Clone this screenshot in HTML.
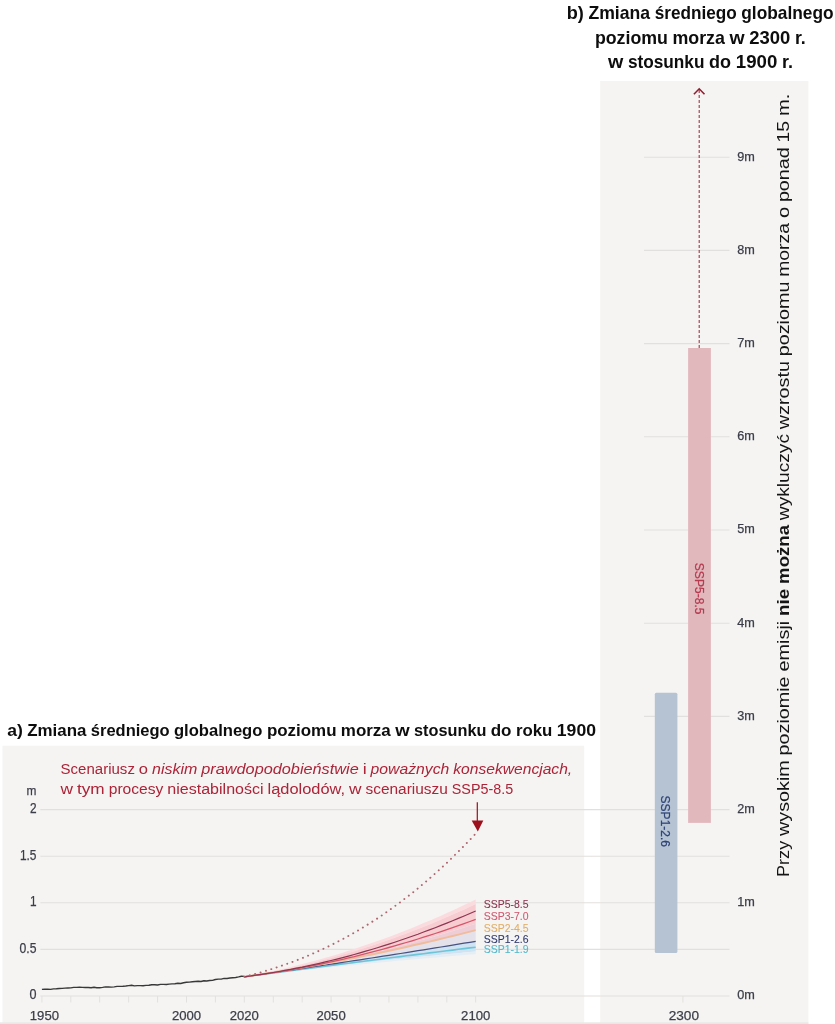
<!DOCTYPE html>
<html lang="pl"><head><meta charset="utf-8"><title>Zmiana średniego globalnego poziomu morza</title>
<style>html,body{margin:0;padding:0;background:#fff}body{width:835px;height:1024px;overflow:hidden}svg{display:block}text{font-family:"Liberation Sans",sans-serif}</style></head><body>
<svg width="835" height="1024" viewBox="0 0 835 1024">
<rect width="835" height="1024" fill="#fff"/>
<rect x="2.5" y="745.7" width="581.7" height="278.3" fill="#f5f4f3"/>
<rect x="600.2" y="81" width="208.2" height="943" fill="#f5f4f3"/>
<rect x="0" y="1022.3" width="808.4" height="1.7" fill="#e9e8e7"/>
<line x1="40.3" x2="729.5" y1="996.0" y2="996.0" stroke="#e2e0de" stroke-width="1.1"/>
<line x1="40.3" x2="729.5" y1="949.4" y2="949.4" stroke="#e2e0de" stroke-width="1.1"/>
<line x1="40.3" x2="729.5" y1="902.8" y2="902.8" stroke="#e2e0de" stroke-width="1.1"/>
<line x1="40.3" x2="729.5" y1="856.2" y2="856.2" stroke="#e2e0de" stroke-width="1.1"/>
<line x1="40.3" x2="729.5" y1="809.6" y2="809.6" stroke="#e2e0de" stroke-width="1.1"/>
<line x1="644" x2="729.5" y1="716.4" y2="716.4" stroke="#e2e0de" stroke-width="1.1"/>
<line x1="644" x2="729.5" y1="623.2" y2="623.2" stroke="#e2e0de" stroke-width="1.1"/>
<line x1="644" x2="729.5" y1="530.0" y2="530.0" stroke="#e2e0de" stroke-width="1.1"/>
<line x1="644" x2="729.5" y1="436.8" y2="436.8" stroke="#e2e0de" stroke-width="1.1"/>
<line x1="644" x2="729.5" y1="343.6" y2="343.6" stroke="#e2e0de" stroke-width="1.1"/>
<line x1="644" x2="729.5" y1="250.4" y2="250.4" stroke="#e2e0de" stroke-width="1.1"/>
<line x1="644" x2="729.5" y1="157.2" y2="157.2" stroke="#e2e0de" stroke-width="1.1"/>
<line x1="41.9" x2="41.9" y1="996.0" y2="1002.5" stroke="#e3e1df" stroke-width="1"/>
<line x1="70.8" x2="70.8" y1="996.0" y2="1002.5" stroke="#e3e1df" stroke-width="1"/>
<line x1="99.7" x2="99.7" y1="996.0" y2="1002.5" stroke="#e3e1df" stroke-width="1"/>
<line x1="128.7" x2="128.7" y1="996.0" y2="1002.5" stroke="#e3e1df" stroke-width="1"/>
<line x1="157.6" x2="157.6" y1="996.0" y2="1002.5" stroke="#e3e1df" stroke-width="1"/>
<line x1="186.5" x2="186.5" y1="996.0" y2="1002.5" stroke="#e3e1df" stroke-width="1"/>
<line x1="215.4" x2="215.4" y1="996.0" y2="1002.5" stroke="#e3e1df" stroke-width="1"/>
<line x1="244.3" x2="244.3" y1="996.0" y2="1002.5" stroke="#e3e1df" stroke-width="1"/>
<line x1="273.3" x2="273.3" y1="996.0" y2="1002.5" stroke="#e3e1df" stroke-width="1"/>
<line x1="302.2" x2="302.2" y1="996.0" y2="1002.5" stroke="#e3e1df" stroke-width="1"/>
<line x1="331.1" x2="331.1" y1="996.0" y2="1002.5" stroke="#e3e1df" stroke-width="1"/>
<line x1="360.0" x2="360.0" y1="996.0" y2="1002.5" stroke="#e3e1df" stroke-width="1"/>
<line x1="388.9" x2="388.9" y1="996.0" y2="1002.5" stroke="#e3e1df" stroke-width="1"/>
<line x1="417.9" x2="417.9" y1="996.0" y2="1002.5" stroke="#e3e1df" stroke-width="1"/>
<line x1="446.8" x2="446.8" y1="996.0" y2="1002.5" stroke="#e3e1df" stroke-width="1"/>
<line x1="475.7" x2="475.7" y1="996.0" y2="1002.5" stroke="#e3e1df" stroke-width="1"/>
<line x1="682.9" x2="682.9" y1="996.0" y2="1002.5" stroke="#e3e1df" stroke-width="1"/>
<path d="M244.3,976.8 L250.1,975.7 L255.9,974.6 L261.7,973.4 L267.5,972.2 L273.3,971.0 L279.0,969.7 L284.8,968.4 L290.6,967.0 L296.4,965.6 L302.2,964.1 L308.0,962.6 L313.7,961.1 L319.5,959.5 L325.3,957.8 L331.1,956.2 L336.9,954.4 L342.7,952.7 L348.5,950.8 L354.2,949.0 L360.0,947.1 L365.8,945.1 L371.6,943.1 L377.4,941.1 L383.2,939.0 L388.9,936.9 L394.7,934.7 L400.5,932.5 L406.3,930.2 L412.1,927.9 L417.9,925.5 L423.6,923.1 L429.4,920.7 L435.2,918.2 L441.0,915.7 L446.8,913.1 L452.6,910.5 L458.3,907.8 L464.1,905.1 L469.9,902.3 L475.7,899.5 L475.7,904.1 L469.9,906.8 L464.1,909.4 L458.3,912.0 L452.6,914.6 L446.8,917.1 L441.0,919.6 L435.2,922.0 L429.4,924.4 L423.6,926.7 L417.9,929.0 L412.1,931.2 L406.3,933.4 L400.5,935.6 L394.7,937.7 L388.9,939.7 L383.2,941.8 L377.4,943.7 L371.6,945.7 L365.8,947.5 L360.0,949.4 L354.2,951.2 L348.5,952.9 L342.7,954.6 L336.9,956.3 L331.1,957.9 L325.3,959.5 L319.5,961.0 L313.7,962.5 L308.0,963.9 L302.2,965.3 L296.4,966.7 L290.6,968.0 L284.8,969.2 L279.0,970.4 L273.3,971.6 L267.5,972.7 L261.7,973.8 L255.9,974.8 L250.1,975.8 L244.3,976.8Z" fill="#fadcdf"/>
<path d="M244.3,976.8 L250.1,975.8 L255.9,974.8 L261.7,973.8 L267.5,972.7 L273.3,971.6 L279.0,970.4 L284.8,969.2 L290.6,968.0 L296.4,966.7 L302.2,965.3 L308.0,963.9 L313.7,962.5 L319.5,961.0 L325.3,959.5 L331.1,957.9 L336.9,956.3 L342.7,954.6 L348.5,952.9 L354.2,951.2 L360.0,949.4 L365.8,947.5 L371.6,945.7 L377.4,943.7 L383.2,941.8 L388.9,939.7 L394.7,937.7 L400.5,935.6 L406.3,933.4 L412.1,931.2 L417.9,929.0 L423.6,926.7 L429.4,924.4 L435.2,922.0 L441.0,919.6 L446.8,917.1 L452.6,914.6 L458.3,912.0 L464.1,909.4 L469.9,906.8 L475.7,904.1 L475.7,923.7 L469.9,925.6 L464.1,927.4 L458.3,929.2 L452.6,931.0 L446.8,932.8 L441.0,934.5 L435.2,936.2 L429.4,937.9 L423.6,939.5 L417.9,941.1 L412.1,942.7 L406.3,944.3 L400.5,945.8 L394.7,947.3 L388.9,948.8 L383.2,950.3 L377.4,951.7 L371.6,953.1 L365.8,954.5 L360.0,955.8 L354.2,957.1 L348.5,958.4 L342.7,959.7 L336.9,960.9 L331.1,962.1 L325.3,963.3 L319.5,964.4 L313.7,965.5 L308.0,966.6 L302.2,967.7 L296.4,968.7 L290.6,969.7 L284.8,970.7 L279.0,971.6 L273.3,972.6 L267.5,973.5 L261.7,974.3 L255.9,975.2 L250.1,976.0 L244.3,976.8Z" fill="#f8cdd2"/>
<path d="M244.3,976.8 L250.1,976.0 L255.9,975.2 L261.7,974.3 L267.5,973.5 L273.3,972.6 L279.0,971.6 L284.8,970.7 L290.6,969.7 L296.4,968.7 L302.2,967.7 L308.0,966.6 L313.7,965.5 L319.5,964.4 L325.3,963.3 L331.1,962.1 L336.9,960.9 L342.7,959.7 L348.5,958.4 L354.2,957.1 L360.0,955.8 L365.8,954.5 L371.6,953.1 L377.4,951.7 L383.2,950.3 L388.9,948.8 L394.7,947.3 L400.5,945.8 L406.3,944.3 L412.1,942.7 L417.9,941.1 L423.6,939.5 L429.4,937.9 L435.2,936.2 L441.0,934.5 L446.8,932.8 L452.6,931.0 L458.3,929.2 L464.1,927.4 L469.9,925.6 L475.7,923.7 L475.7,930.1 L469.9,931.6 L464.1,933.1 L458.3,934.6 L452.6,936.0 L446.8,937.4 L441.0,938.8 L435.2,940.2 L429.4,941.6 L423.6,943.0 L417.9,944.3 L412.1,945.6 L406.3,946.9 L400.5,948.2 L394.7,949.5 L388.9,950.8 L383.2,952.0 L377.4,953.2 L371.6,954.4 L365.8,955.6 L360.0,956.8 L354.2,958.0 L348.5,959.1 L342.7,960.2 L336.9,961.3 L331.1,962.4 L325.3,963.5 L319.5,964.6 L313.7,965.6 L308.0,966.6 L302.2,967.6 L296.4,968.6 L290.6,969.6 L284.8,970.5 L279.0,971.5 L273.3,972.4 L267.5,973.3 L261.7,974.2 L255.9,975.1 L250.1,975.9 L244.3,976.8Z" fill="#efcdd7"/>
<path d="M244.3,976.8 L250.1,975.9 L255.9,975.1 L261.7,974.2 L267.5,973.3 L273.3,972.4 L279.0,971.5 L284.8,970.5 L290.6,969.6 L296.4,968.6 L302.2,967.6 L308.0,966.6 L313.7,965.6 L319.5,964.6 L325.3,963.5 L331.1,962.4 L336.9,961.3 L342.7,960.2 L348.5,959.1 L354.2,958.0 L360.0,956.8 L365.8,955.6 L371.6,954.4 L377.4,953.2 L383.2,952.0 L388.9,950.8 L394.7,949.5 L400.5,948.2 L406.3,946.9 L412.1,945.6 L417.9,944.3 L423.6,943.0 L429.4,941.6 L435.2,940.2 L441.0,938.8 L446.8,937.4 L452.6,936.0 L458.3,934.6 L464.1,933.1 L469.9,931.6 L475.7,930.1 L475.7,941.3 L469.9,942.3 L464.1,943.2 L458.3,944.2 L452.6,945.1 L446.8,946.1 L441.0,947.0 L435.2,947.9 L429.4,948.9 L423.6,949.8 L417.9,950.7 L412.1,951.6 L406.3,952.6 L400.5,953.5 L394.7,954.4 L388.9,955.3 L383.2,956.2 L377.4,957.1 L371.6,958.0 L365.8,958.9 L360.0,959.8 L354.2,960.6 L348.5,961.5 L342.7,962.4 L336.9,963.3 L331.1,964.1 L325.3,965.0 L319.5,965.9 L313.7,966.7 L308.0,967.6 L302.2,968.4 L296.4,969.3 L290.6,970.1 L284.8,971.0 L279.0,971.8 L273.3,972.6 L267.5,973.5 L261.7,974.3 L255.9,975.1 L250.1,975.9 L244.3,976.8Z" fill="#e4e1eb"/>
<path d="M244.3,976.8 L250.1,975.9 L255.9,975.1 L261.7,974.3 L267.5,973.5 L273.3,972.6 L279.0,971.8 L284.8,971.0 L290.6,970.1 L296.4,969.3 L302.2,968.4 L308.0,967.6 L313.7,966.7 L319.5,965.9 L325.3,965.0 L331.1,964.1 L336.9,963.3 L342.7,962.4 L348.5,961.5 L354.2,960.6 L360.0,959.8 L365.8,958.9 L371.6,958.0 L377.4,957.1 L383.2,956.2 L388.9,955.3 L394.7,954.4 L400.5,953.5 L406.3,952.6 L412.1,951.6 L417.9,950.7 L423.6,949.8 L429.4,948.9 L435.2,947.9 L441.0,947.0 L446.8,946.1 L452.6,945.1 L458.3,944.2 L464.1,943.2 L469.9,942.3 L475.7,941.3 L475.7,951.5 L469.9,952.1 L464.1,952.6 L458.3,953.2 L452.6,953.7 L446.8,954.3 L441.0,954.8 L435.2,955.4 L429.4,955.9 L423.6,956.5 L417.9,957.1 L412.1,957.7 L406.3,958.3 L400.5,958.8 L394.7,959.4 L388.9,960.0 L383.2,960.6 L377.4,961.3 L371.6,961.9 L365.8,962.5 L360.0,963.1 L354.2,963.8 L348.5,964.4 L342.7,965.0 L336.9,965.7 L331.1,966.3 L325.3,967.0 L319.5,967.7 L313.7,968.3 L308.0,969.0 L302.2,969.7 L296.4,970.4 L290.6,971.1 L284.8,971.8 L279.0,972.5 L273.3,973.2 L267.5,973.9 L261.7,974.6 L255.9,975.3 L250.1,976.0 L244.3,976.8Z" fill="#d0e3f3"/>
<path d="M244.3,976.8 L250.1,976.0 L255.9,975.3 L261.7,974.6 L267.5,973.9 L273.3,973.2 L279.0,972.5 L284.8,971.8 L290.6,971.1 L296.4,970.4 L302.2,969.7 L308.0,969.0 L313.7,968.3 L319.5,967.7 L325.3,967.0 L331.1,966.3 L336.9,965.7 L342.7,965.0 L348.5,964.4 L354.2,963.8 L360.0,963.1 L365.8,962.5 L371.6,961.9 L377.4,961.3 L383.2,960.6 L388.9,960.0 L394.7,959.4 L400.5,958.8 L406.3,958.3 L412.1,957.7 L417.9,957.1 L423.6,956.5 L429.4,955.9 L435.2,955.4 L441.0,954.8 L446.8,954.3 L452.6,953.7 L458.3,953.2 L464.1,952.6 L469.9,952.1 L475.7,951.5 L475.7,954.2 L469.9,954.6 L464.1,955.1 L458.3,955.6 L452.6,956.0 L446.8,956.5 L441.0,957.0 L435.2,957.5 L429.4,958.0 L423.6,958.5 L417.9,959.0 L412.1,959.6 L406.3,960.1 L400.5,960.6 L394.7,961.1 L388.9,961.7 L383.2,962.2 L377.4,962.8 L371.6,963.3 L365.8,963.9 L360.0,964.4 L354.2,965.0 L348.5,965.6 L342.7,966.2 L336.9,966.7 L331.1,967.3 L325.3,967.9 L319.5,968.5 L313.7,969.1 L308.0,969.7 L302.2,970.3 L296.4,971.0 L290.6,971.6 L284.8,972.2 L279.0,972.8 L273.3,973.5 L267.5,974.1 L261.7,974.8 L255.9,975.4 L250.1,976.1 L244.3,976.8Z" fill="#e4eef5"/>
<path d="M244.3,976.8 L250.1,976.0 L255.9,975.2 L261.7,974.5 L267.5,973.7 L273.3,973.0 L279.0,972.2 L284.8,971.4 L290.6,970.7 L296.4,969.9 L302.2,969.2 L308.0,968.4 L313.7,967.7 L319.5,966.9 L325.3,966.2 L331.1,965.4 L336.9,964.7 L342.7,963.9 L348.5,963.2 L354.2,962.5 L360.0,961.7 L365.8,961.0 L371.6,960.2 L377.4,959.5 L383.2,958.8 L388.9,958.0 L394.7,957.3 L400.5,956.6 L406.3,955.8 L412.1,955.1 L417.9,954.4 L423.6,953.7 L429.4,952.9 L435.2,952.2 L441.0,951.5 L446.8,950.8 L452.6,950.1 L458.3,949.3 L464.1,948.6 L469.9,947.9 L475.7,947.2" fill="none" stroke="#6cc6d8" stroke-width="1.6"/>
<path d="M244.3,976.8 L250.1,975.9 L255.9,975.1 L261.7,974.3 L267.5,973.5 L273.3,972.6 L279.0,971.8 L284.8,971.0 L290.6,970.1 L296.4,969.3 L302.2,968.4 L308.0,967.6 L313.7,966.7 L319.5,965.9 L325.3,965.0 L331.1,964.1 L336.9,963.3 L342.7,962.4 L348.5,961.5 L354.2,960.6 L360.0,959.8 L365.8,958.9 L371.6,958.0 L377.4,957.1 L383.2,956.2 L388.9,955.3 L394.7,954.4 L400.5,953.5 L406.3,952.6 L412.1,951.6 L417.9,950.7 L423.6,949.8 L429.4,948.9 L435.2,947.9 L441.0,947.0 L446.8,946.1 L452.6,945.1 L458.3,944.2 L464.1,943.2 L469.9,942.3 L475.7,941.3" fill="none" stroke="#46527f" stroke-width="1.2"/>
<path d="M244.3,976.8 L250.1,975.9 L255.9,975.1 L261.7,974.2 L267.5,973.3 L273.3,972.4 L279.0,971.5 L284.8,970.5 L290.6,969.6 L296.4,968.6 L302.2,967.6 L308.0,966.6 L313.7,965.6 L319.5,964.6 L325.3,963.5 L331.1,962.4 L336.9,961.3 L342.7,960.2 L348.5,959.1 L354.2,958.0 L360.0,956.8 L365.8,955.6 L371.6,954.4 L377.4,953.2 L383.2,952.0 L388.9,950.8 L394.7,949.5 L400.5,948.2 L406.3,946.9 L412.1,945.6 L417.9,944.3 L423.6,943.0 L429.4,941.6 L435.2,940.2 L441.0,938.8 L446.8,937.4 L452.6,936.0 L458.3,934.6 L464.1,933.1 L469.9,931.6 L475.7,930.1" fill="none" stroke="#f0bc9c" stroke-width="2.0"/>
<path d="M244.3,976.8 L250.1,976.0 L255.9,975.2 L261.7,974.4 L267.5,973.6 L273.3,972.7 L279.0,971.8 L284.8,970.8 L290.6,969.8 L296.4,968.8 L302.2,967.7 L308.0,966.6 L313.7,965.5 L319.5,964.3 L325.3,963.1 L331.1,961.9 L336.9,960.6 L342.7,959.3 L348.5,957.9 L354.2,956.6 L360.0,955.1 L365.8,953.7 L371.6,952.2 L377.4,950.7 L383.2,949.1 L388.9,947.5 L394.7,945.9 L400.5,944.2 L406.3,942.5 L412.1,940.8 L417.9,939.0 L423.6,937.2 L429.4,935.4 L435.2,933.5 L441.0,931.6 L446.8,929.7 L452.6,927.7 L458.3,925.7 L464.1,923.6 L469.9,921.5 L475.7,919.4" fill="none" stroke="#d5566a" stroke-width="1.3"/>
<path d="M244.3,976.8 L250.1,976.0 L255.9,975.2 L261.7,974.3 L267.5,973.4 L273.3,972.5 L279.0,971.5 L284.8,970.4 L290.6,969.4 L296.4,968.2 L302.2,967.1 L308.0,965.8 L313.7,964.6 L319.5,963.3 L325.3,961.9 L331.1,960.5 L336.9,959.1 L342.7,957.6 L348.5,956.1 L354.2,954.5 L360.0,952.9 L365.8,951.2 L371.6,949.5 L377.4,947.7 L383.2,945.9 L388.9,944.1 L394.7,942.2 L400.5,940.2 L406.3,938.3 L412.1,936.2 L417.9,934.2 L423.6,932.0 L429.4,929.9 L435.2,927.7 L441.0,925.4 L446.8,923.1 L452.6,920.8 L458.3,918.4 L464.1,916.0 L469.9,913.5 L475.7,911.0" fill="none" stroke="#8e3550" stroke-width="1.2"/>
<path d="M41.9,989.4 L44.8,989.2 L47.7,989.1 L50.6,989.4 L53.5,988.9 L56.4,988.8 L59.3,988.5 L62.1,988.4 L65.0,988.1 L67.9,988.0 L70.8,987.9 L73.7,987.4 L76.6,987.4 L79.5,987.1 L82.4,987.4 L85.3,987.5 L88.2,987.5 L91.1,987.7 L94.0,987.2 L96.8,987.7 L99.7,987.7 L102.6,987.4 L105.5,986.9 L108.4,987.0 L111.3,987.1 L114.2,986.9 L117.1,986.4 L120.0,986.4 L122.9,986.3 L125.8,986.0 L128.7,985.6 L131.6,985.3 L134.4,985.9 L137.3,985.6 L140.2,985.6 L143.1,985.8 L146.0,985.4 L148.9,985.3 L151.8,984.7 L154.7,984.8 L157.6,985.0 L160.5,984.4 L163.4,984.4 L166.3,984.5 L169.1,984.1 L172.0,983.9 L174.9,983.7 L177.8,983.3 L180.7,983.5 L183.6,982.8 L186.5,982.3 L189.4,982.1 L192.3,981.8 L195.2,981.5 L198.1,981.2 L201.0,981.5 L203.9,980.8 L206.7,981.0 L209.6,980.5 L212.5,980.4 L215.4,979.5 L218.3,979.1 L221.2,979.1 L224.1,978.4 L227.0,978.5 L229.9,978.0 L232.8,977.7 L235.7,977.5 L238.6,976.9 L241.4,976.2 L244.3,976.4" fill="none" stroke="#383838" stroke-width="1.4" stroke-linejoin="round"/>
<path d="M244.3,976.7 L250.1,975.2 L255.9,973.7 L261.7,972.1 L267.5,970.3 L273.3,968.5 L279.0,966.6 L284.8,964.6 L290.6,962.6 L296.4,960.4 L302.2,958.1 L308.0,955.7 L313.7,953.2 L319.5,950.6 L325.3,947.9 L331.1,945.1 L336.9,942.1 L342.7,939.1 L348.5,935.9 L354.2,932.7 L360.0,929.3 L365.8,925.8 L371.6,922.1 L377.4,918.4 L383.2,914.5 L388.9,910.5 L394.7,906.3 L400.5,902.0 L406.3,897.6 L412.1,893.1 L417.9,888.4 L423.6,883.6 L429.4,878.6 L435.2,873.5 L441.0,868.3 L446.8,862.9 L452.6,857.3 L458.3,851.6 L464.1,845.8 L469.9,839.8 L475.7,833.6" fill="none" stroke="#ad676f" stroke-width="1.9" stroke-dasharray="0.1 5.5" stroke-linecap="round"/>
<line x1="477.3" x2="477.3" y1="802.2" y2="822" stroke="#9c0f1c" stroke-width="1.2"/>
<path d="M471.7,820.5 L483.3,820.5 L477.8,831.5 Z" fill="#9c0f1c"/>
<text y="794.7" font-size="13.5" fill="#3b3e48" stroke="#3b3e48" stroke-width="0.25"><tspan x="26.6" textLength="9.9" lengthAdjust="spacingAndGlyphs">m</tspan></text>
<text y="813.0" font-size="13.8" fill="#3b3e48" stroke="#3b3e48" stroke-width="0.25"><tspan x="29.9" textLength="6.6" lengthAdjust="spacingAndGlyphs">2</tspan></text>
<text y="859.6" font-size="13.8" fill="#3b3e48" stroke="#3b3e48" stroke-width="0.25"><tspan x="19.9" textLength="16.6" lengthAdjust="spacingAndGlyphs">1.5</tspan></text>
<text y="906.2" font-size="13.8" fill="#3b3e48" stroke="#3b3e48" stroke-width="0.25"><tspan x="29.9" textLength="6.6" lengthAdjust="spacingAndGlyphs">1</tspan></text>
<text y="952.8" font-size="13.8" fill="#3b3e48" stroke="#3b3e48" stroke-width="0.25"><tspan x="19.6" textLength="16.9" lengthAdjust="spacingAndGlyphs">0.5</tspan></text>
<text y="999.4" font-size="13.8" fill="#3b3e48" stroke="#3b3e48" stroke-width="0.25"><tspan x="29.5" textLength="7.0" lengthAdjust="spacingAndGlyphs">0</tspan></text>
<text y="1019.8" font-size="13" fill="#3b3e48" stroke="#3b3e48" stroke-width="0.25"><tspan x="29.8" textLength="29.2" lengthAdjust="spacingAndGlyphs">1950</tspan></text>
<text y="1019.8" font-size="13" fill="#3b3e48" stroke="#3b3e48" stroke-width="0.25"><tspan x="171.9" textLength="29.2" lengthAdjust="spacingAndGlyphs">2000</tspan></text>
<text y="1019.8" font-size="13" fill="#3b3e48" stroke="#3b3e48" stroke-width="0.25"><tspan x="229.7" textLength="29.2" lengthAdjust="spacingAndGlyphs">2020</tspan></text>
<text y="1019.8" font-size="13" fill="#3b3e48" stroke="#3b3e48" stroke-width="0.25"><tspan x="316.5" textLength="29.2" lengthAdjust="spacingAndGlyphs">2050</tspan></text>
<text y="1019.8" font-size="13" fill="#3b3e48" stroke="#3b3e48" stroke-width="0.25"><tspan x="461.1" textLength="29.2" lengthAdjust="spacingAndGlyphs">2100</tspan></text>
<text y="1019.9" font-size="13" fill="#3b3e48" stroke="#3b3e48" stroke-width="0.25"><tspan x="668.7" textLength="30.3" lengthAdjust="spacingAndGlyphs">2300</tspan></text>
<text y="999.3" font-size="12.7" fill="#3b3e48" stroke="#3b3e48" stroke-width="0.25"><tspan x="737.3" textLength="17.6" lengthAdjust="spacingAndGlyphs">0m</tspan></text>
<text y="906.1" font-size="12.7" fill="#3b3e48" stroke="#3b3e48" stroke-width="0.25"><tspan x="737.3" textLength="17.6" lengthAdjust="spacingAndGlyphs">1m</tspan></text>
<text y="812.9" font-size="12.7" fill="#3b3e48" stroke="#3b3e48" stroke-width="0.25"><tspan x="737.3" textLength="17.6" lengthAdjust="spacingAndGlyphs">2m</tspan></text>
<text y="719.7" font-size="12.7" fill="#3b3e48" stroke="#3b3e48" stroke-width="0.25"><tspan x="737.3" textLength="17.6" lengthAdjust="spacingAndGlyphs">3m</tspan></text>
<text y="626.5" font-size="12.7" fill="#3b3e48" stroke="#3b3e48" stroke-width="0.25"><tspan x="737.3" textLength="17.6" lengthAdjust="spacingAndGlyphs">4m</tspan></text>
<text y="533.3" font-size="12.7" fill="#3b3e48" stroke="#3b3e48" stroke-width="0.25"><tspan x="737.3" textLength="17.6" lengthAdjust="spacingAndGlyphs">5m</tspan></text>
<text y="440.1" font-size="12.7" fill="#3b3e48" stroke="#3b3e48" stroke-width="0.25"><tspan x="737.3" textLength="17.6" lengthAdjust="spacingAndGlyphs">6m</tspan></text>
<text y="346.9" font-size="12.7" fill="#3b3e48" stroke="#3b3e48" stroke-width="0.25"><tspan x="737.3" textLength="17.6" lengthAdjust="spacingAndGlyphs">7m</tspan></text>
<text y="253.7" font-size="12.7" fill="#3b3e48" stroke="#3b3e48" stroke-width="0.25"><tspan x="737.3" textLength="17.6" lengthAdjust="spacingAndGlyphs">8m</tspan></text>
<text y="160.5" font-size="12.7" fill="#3b3e48" stroke="#3b3e48" stroke-width="0.25"><tspan x="737.3" textLength="17.6" lengthAdjust="spacingAndGlyphs">9m</tspan></text>
<text y="907.8" font-size="10.9" fill="#8b3550" stroke="#8b3550" stroke-width="0.1"><tspan x="483.8" textLength="44.7" lengthAdjust="spacingAndGlyphs">SSP5-8.5</tspan></text>
<text y="919.5" font-size="10.9" fill="#cf5a70" stroke="#cf5a70" stroke-width="0.1"><tspan x="483.8" textLength="44.7" lengthAdjust="spacingAndGlyphs">SSP3-7.0</tspan></text>
<text y="931.5" font-size="10.9" fill="#e3ae68" stroke="#e3ae68" stroke-width="0.1"><tspan x="483.8" textLength="44.7" lengthAdjust="spacingAndGlyphs">SSP2-4.5</tspan></text>
<text y="942.8" font-size="10.9" fill="#2f3a6e" stroke="#2f3a6e" stroke-width="0.1"><tspan x="483.8" textLength="44.7" lengthAdjust="spacingAndGlyphs">SSP1-2.6</tspan></text>
<text y="953.3" font-size="10.9" fill="#55b9cc" stroke="#55b9cc" stroke-width="0.1"><tspan x="483.8" textLength="44.7" lengthAdjust="spacingAndGlyphs">SSP1-1.9</tspan></text>
<text y="774.4" font-size="15.4" fill="#ab2437"><tspan x="60.6" textLength="74.3" lengthAdjust="spacingAndGlyphs">Scenariusz</tspan> <tspan x="138.8" textLength="9.2" lengthAdjust="spacingAndGlyphs">o</tspan> <tspan x="152.0" textLength="45.4" lengthAdjust="spacingAndGlyphs" font-style="italic">niskim</tspan> <tspan x="201.3" textLength="157.4" lengthAdjust="spacingAndGlyphs" font-style="italic">prawdopodobieństwie</tspan> <tspan x="362.7" textLength="4.0" lengthAdjust="spacingAndGlyphs">i</tspan> <tspan x="370.6" textLength="78.7" lengthAdjust="spacingAndGlyphs" font-style="italic">poważnych</tspan> <tspan x="453.3" textLength="118.9" lengthAdjust="spacingAndGlyphs" font-style="italic">konsekwencjach,</tspan></text>
<text y="793.9" font-size="15.4" fill="#ab2437"><tspan x="60.6" textLength="12.5" lengthAdjust="spacingAndGlyphs">w</tspan> <tspan x="77.0" textLength="27.7" lengthAdjust="spacingAndGlyphs">tym</tspan> <tspan x="108.7" textLength="54.7" lengthAdjust="spacingAndGlyphs">procesy</tspan> <tspan x="167.3" textLength="96.3" lengthAdjust="spacingAndGlyphs">niestabilności</tspan> <tspan x="267.5" textLength="77.6" lengthAdjust="spacingAndGlyphs">lądolodów,</tspan> <tspan x="349.1" textLength="12.5" lengthAdjust="spacingAndGlyphs">w</tspan> <tspan x="365.5" textLength="82.4" lengthAdjust="spacingAndGlyphs">scenariuszu</tspan> <tspan x="451.8" textLength="61.4" lengthAdjust="spacingAndGlyphs">SSP5-8.5</tspan></text>
<text y="735.9" font-size="17.2" fill="#0d0d0d" font-weight="bold"><tspan x="7.2" textLength="15.6" lengthAdjust="spacingAndGlyphs">a)</tspan> <tspan x="27.2" textLength="59.2" lengthAdjust="spacingAndGlyphs">Zmiana</tspan> <tspan x="90.8" textLength="78.8" lengthAdjust="spacingAndGlyphs">średniego</tspan> <tspan x="173.9" textLength="88.5" lengthAdjust="spacingAndGlyphs">globalnego</tspan> <tspan x="266.9" textLength="69.6" lengthAdjust="spacingAndGlyphs">poziomu</tspan> <tspan x="340.8" textLength="50.0" lengthAdjust="spacingAndGlyphs">morza</tspan> <tspan x="395.2" textLength="14.4" lengthAdjust="spacingAndGlyphs">w</tspan> <tspan x="414.0" textLength="72.4" lengthAdjust="spacingAndGlyphs">stosunku</tspan> <tspan x="490.7" textLength="20.8" lengthAdjust="spacingAndGlyphs">do</tspan> <tspan x="515.9" textLength="36.5" lengthAdjust="spacingAndGlyphs">roku</tspan> <tspan x="556.8" textLength="39.2" lengthAdjust="spacingAndGlyphs">1900</tspan></text>
<text y="19.4" font-size="18.1" fill="#0d0d0d" font-weight="bold"><tspan x="566.7" textLength="17.1" lengthAdjust="spacingAndGlyphs">b)</tspan> <tspan x="588.4" textLength="61.7" lengthAdjust="spacingAndGlyphs">Zmiana</tspan> <tspan x="654.7" textLength="82.1" lengthAdjust="spacingAndGlyphs">średniego</tspan> <tspan x="741.3" textLength="92.3" lengthAdjust="spacingAndGlyphs">globalnego</tspan></text>
<text y="44" font-size="18.1" fill="#0d0d0d" font-weight="bold"><tspan x="594.9" textLength="73.0" lengthAdjust="spacingAndGlyphs">poziomu</tspan> <tspan x="672.4" textLength="52.5" lengthAdjust="spacingAndGlyphs">morza</tspan> <tspan x="729.5" textLength="15.1" lengthAdjust="spacingAndGlyphs">w</tspan> <tspan x="749.2" textLength="41.1" lengthAdjust="spacingAndGlyphs">2300</tspan> <tspan x="794.9" textLength="10.9" lengthAdjust="spacingAndGlyphs">r.</tspan></text>
<text y="68.3" font-size="18.1" fill="#0d0d0d" font-weight="bold"><tspan x="608.0" textLength="15.3" lengthAdjust="spacingAndGlyphs">w</tspan> <tspan x="627.9" textLength="76.6" lengthAdjust="spacingAndGlyphs">stosunku</tspan> <tspan x="709.1" textLength="22.0" lengthAdjust="spacingAndGlyphs">do</tspan> <tspan x="735.8" textLength="41.5" lengthAdjust="spacingAndGlyphs">1900</tspan> <tspan x="781.9" textLength="11.0" lengthAdjust="spacingAndGlyphs">r.</tspan></text>
<rect x="654.8" y="692.8" width="22.6" height="260.2" rx="1.5" fill="#b5c3d3"/>
<rect x="688.1" y="348" width="22.8" height="474.9" fill="#e1b9bd"/>
<text y="0" font-size="12.6" fill="#2f4478" stroke="#2f4478" stroke-width="0.25" transform="translate(661.3,795.6) rotate(90)"><tspan x="0.0" textLength="51.4" lengthAdjust="spacingAndGlyphs">SSP1-2.6</tspan></text>
<text y="0" font-size="12.6" fill="#b63a50" stroke="#b63a50" stroke-width="0.25" transform="translate(694.6,562.8) rotate(90)"><tspan x="0.0" textLength="51.7" lengthAdjust="spacingAndGlyphs">SSP5-8.5</tspan></text>
<line x1="699.2" x2="699.2" y1="348" y2="90" stroke="#a03845" stroke-width="1.1" stroke-dasharray="3 2"/>
<path d="M693.9,94.2 L699.2,88.8 L704.5,94.2" fill="none" stroke="#8f1f30" stroke-width="1.6"/>
<text y="0" font-size="16.7" fill="#151515" transform="translate(788.8,877) rotate(-90)"><tspan x="0.0" textLength="36.2" lengthAdjust="spacingAndGlyphs">Przy</tspan> <tspan x="41.0" textLength="75.8" lengthAdjust="spacingAndGlyphs">wysokim</tspan> <tspan x="121.6" textLength="79.0" lengthAdjust="spacingAndGlyphs">poziomie</tspan> <tspan x="205.5" textLength="50.7" lengthAdjust="spacingAndGlyphs">emisji</tspan> <tspan x="261.0" textLength="27.3" lengthAdjust="spacingAndGlyphs" font-weight="bold">nie</tspan> <tspan x="293.1" textLength="58.9" lengthAdjust="spacingAndGlyphs" font-weight="bold">można</tspan> <tspan x="356.8" textLength="86.2" lengthAdjust="spacingAndGlyphs">wykluczyć</tspan> <tspan x="447.8" textLength="68.1" lengthAdjust="spacingAndGlyphs">wzrostu</tspan> <tspan x="520.7" textLength="74.7" lengthAdjust="spacingAndGlyphs">poziomu</tspan> <tspan x="600.2" textLength="53.8" lengthAdjust="spacingAndGlyphs">morza</tspan> <tspan x="658.9" textLength="11.2" lengthAdjust="spacingAndGlyphs">o</tspan> <tspan x="674.9" textLength="54.9" lengthAdjust="spacingAndGlyphs">ponad</tspan> <tspan x="734.6" textLength="21.5" lengthAdjust="spacingAndGlyphs">15</tspan> <tspan x="761.0" textLength="22.3" lengthAdjust="spacingAndGlyphs">m.</tspan></text>
</svg></body></html>
